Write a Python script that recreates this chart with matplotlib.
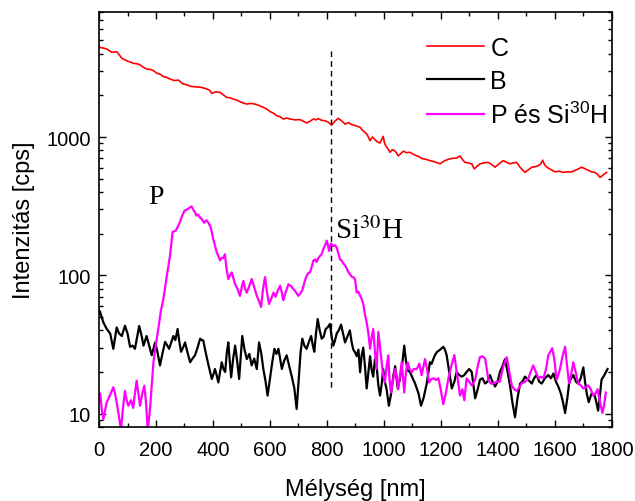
import matplotlib
matplotlib.use("Agg")
import matplotlib.pyplot as plt
from matplotlib.ticker import MultipleLocator, LogLocator, FixedLocator, FuncFormatter, NullFormatter

plt.rcParams['font.family'] = 'Liberation Sans'
plt.rcParams['mathtext.fontset'] = 'custom'
plt.rcParams['mathtext.rm'] = 'Liberation Sans'
plt.rcParams['mathtext.it'] = 'Liberation Sans:italic'
plt.rcParams['mathtext.bf'] = 'Liberation Sans:bold'

# C profile
depth_c = [0, 15, 27, 45, 62, 72, 80, 97, 110, 121, 135, 144, 155, 167, 180, 191, 202, 215, 226, 238,
           249, 265, 279, 288, 296, 310, 320, 335, 355, 368, 378, 388, 396, 410, 425, 437, 448, 460, 472, 484,
           495, 507, 519, 533, 548, 562, 577, 590, 601, 612, 624, 636, 647, 659, 671, 688, 706, 718, 729, 741,
           753, 762, 770, 782, 794, 805, 817, 828, 840, 852, 864, 876, 887, 900, 917, 925, 934, 942, 952, 960,
           969, 978, 987, 993, 998, 1003, 1007, 1015, 1022, 1030, 1040, 1046, 1051, 1060, 1069, 1080, 1092, 1104, 1116, 1125,
           1133, 1148, 1162, 1180, 1198, 1207, 1215, 1227, 1239, 1256, 1268, 1276, 1285, 1297, 1309, 1318, 1328, 1338, 1352, 1367,
           1380, 1391, 1405, 1420, 1432, 1444, 1455, 1467, 1480, 1496, 1508, 1520, 1532, 1543, 1552, 1558, 1565, 1573, 1588, 1602,
           1617, 1631, 1645, 1660, 1678, 1695, 1706, 1718, 1730, 1741, 1750, 1760, 1772, 1783]
counts_c = [4455, 4400, 4325, 4090, 4140, 3900, 3705, 3560, 3480, 3410, 3380, 3320, 3200, 3100, 3080, 3020, 2900, 2840, 2730, 2700,
            2625, 2560, 2580, 2480, 2415, 2380, 2325, 2310, 2290, 2260, 2225, 2180, 2070, 2120, 2100, 2010, 1935, 1920, 1880, 1850,
            1800, 1760, 1730, 1750, 1730, 1690, 1640, 1590, 1525, 1490, 1425, 1400, 1350, 1370, 1350, 1330, 1335, 1300, 1262, 1300,
            1350, 1330, 1360, 1320, 1310, 1280, 1220, 1300, 1365, 1310, 1240, 1270, 1230, 1210, 1175, 1120, 1080, 1040, 940, 1000,
            960, 920, 905, 960, 1010, 900, 865, 820, 775, 810, 790, 760, 730, 760, 790, 770, 775, 750, 730, 720,
            700, 690, 675, 660, 640, 660, 675, 690, 700, 705, 730, 690, 655, 650, 640, 588, 615, 640, 650, 655,
            630, 605, 640, 675, 655, 640, 650, 655, 600, 555, 580, 605, 610, 620, 640, 680, 630, 605, 580, 560,
            565, 555, 560, 560, 580, 605, 590, 575, 560, 555, 540, 510, 535, 555]

# B profile
depth_b = [0, 4, 15, 27, 39, 50, 62, 70, 80, 91, 100, 109, 118, 126, 133, 141, 150, 156, 167, 176,
           185, 197, 205, 214, 224, 232, 240, 246, 254, 261, 268, 276, 282, 288, 295, 302, 310, 320, 328, 337,
           346, 355, 361, 366, 374, 382, 390, 396, 401, 407, 413, 419, 425, 431, 437, 443, 449, 454, 459, 464,
           471, 478, 485, 492, 498, 503, 511, 519, 528, 536, 545, 554, 562, 570, 577, 585, 592, 597, 601, 609,
           616, 623, 630, 636, 642, 650, 659, 668, 677, 686, 694, 698, 702, 708, 714, 721, 729, 737, 745, 751,
           756, 762, 768, 775, 782, 789, 796, 803, 811, 817, 823, 829, 835, 842, 850, 857, 864, 872, 881, 887,
           893, 899, 905, 911, 917, 922, 928, 934, 940, 946, 952, 957, 963, 969, 975, 981, 987, 993, 998, 1004,
           1010, 1018, 1026, 1034, 1040, 1049, 1057, 1063, 1068, 1072, 1078, 1084, 1092, 1104, 1110, 1122, 1131, 1140, 1151, 1162,
           1168, 1178, 1186, 1198, 1209, 1215, 1221, 1230, 1239, 1248, 1256, 1265, 1274, 1283, 1291, 1300, 1309, 1315, 1321, 1330,
           1338, 1347, 1356, 1364, 1373, 1382, 1391, 1400, 1408, 1417, 1426, 1435, 1444, 1452, 1461, 1470, 1479, 1487, 1496, 1508,
           1520, 1528, 1537, 1546, 1555, 1566, 1578, 1587, 1596, 1605, 1613, 1622, 1630, 1637, 1645, 1651, 1658, 1666, 1675, 1683,
           1692, 1701, 1707, 1713, 1720, 1730, 1741, 1747, 1753, 1760, 1765, 1775, 1786]
counts_b = [56, 54, 45.7, 40.9, 38, 29.4, 42, 38, 36.4, 43.2, 38, 30.4, 31, 29.4, 35, 43, 36, 31, 36.4, 31,
            26.4, 32.7, 28, 22.3, 28, 33, 31, 29.4, 33, 36.4, 34, 40.9, 33, 28, 30, 32.7, 28, 23.5, 25, 26.4,
            30, 34.8, 34, 33.8, 28, 23.5, 20, 17.8, 19, 21, 19, 16.8, 20, 23.5, 21, 20, 28, 32.7, 24, 18.3,
            25, 31, 24, 17.8, 26, 36.4, 29, 24.8, 27, 22.3, 25, 21, 32.7, 27, 21, 17, 13.5, 16, 18.5, 24,
            29.4, 27, 29.4, 25, 21, 24, 26.4, 22, 18.5, 15.2, 10.8, 14, 18.5, 28, 34.8, 31, 29.4, 33, 36.4, 31,
            28, 38, 48.3, 40, 34.8, 36, 40.9, 42, 44.5, 36, 31, 34, 38, 40, 44, 38, 32.7, 36, 40, 33,
            29, 27.8, 26, 29, 19.9, 26, 30, 22, 15.2, 20, 26, 21, 18.5, 24.7, 22, 16, 13.5, 16.5, 21, 17,
            15, 11.4, 14, 19, 22, 15.2, 18, 21, 26, 31, 24, 20.5, 20, 17.6, 16.5, 14, 11.4, 13, 16.5, 23.5,
            22.9, 26, 27.8, 29, 30.4, 29, 26.4, 20, 15.2, 17, 20, 19, 18.5, 19, 20, 21, 20, 16, 12.9, 15,
            17.6, 18, 16.5, 17, 19, 17, 15.7, 17, 20, 22, 24.8, 20, 15.7, 12, 9.4, 13, 16.5, 17, 18.5, 17.5,
            16.5, 18, 19, 17, 16.5, 18, 19, 18, 19.5, 17, 15.7, 14, 12, 10.1, 13, 16.5, 18, 19, 17, 16.5,
            18, 21.6, 17, 14, 12.1, 14, 13.5, 12, 10.5, 14, 17.6, 19, 21]

# P and Si30H profile
depth_p = [0, 4, 10, 15, 21, 27, 38, 50, 56, 62, 70, 77, 84, 91, 97, 103, 112, 120, 126, 132,
           138, 144, 152, 159, 165, 171, 179, 185, 191, 200, 208, 217, 226, 232, 238, 244, 249, 254, 258, 264,
           270, 278, 284, 292, 300, 310, 318, 325, 331, 337, 342, 348, 354, 361, 369, 377, 384, 390, 395, 401,
           407, 413, 419, 425, 431, 436, 442, 448, 454, 460, 466, 472, 478, 486, 495, 501, 507, 513, 519, 528,
           536, 545, 554, 562, 569, 576, 583, 590, 597, 605, 613, 620, 628, 636, 642, 647, 656, 665, 673, 682,
           691, 700, 707, 714, 722, 729, 735, 741, 747, 753, 759, 764, 770, 776, 782, 788, 794, 800, 804, 808,
           815, 823, 829, 835, 840, 846, 852, 858, 864, 870, 876, 881, 887, 893, 899, 905, 911, 917, 922, 928,
           934, 940, 946, 952, 957, 963, 969, 975, 981, 987, 993, 998, 1004, 1010, 1016, 1020, 1025, 1032, 1039, 1045,
           1051, 1057, 1063, 1068, 1072, 1078, 1084, 1091, 1098, 1106, 1116, 1125, 1133, 1145, 1152, 1159, 1168, 1175, 1184, 1192,
           1200, 1209, 1218, 1227, 1237, 1248, 1258, 1268, 1276, 1283, 1291, 1300, 1309, 1321, 1330, 1338, 1347, 1356, 1362, 1367,
           1376, 1385, 1396, 1408, 1420, 1432, 1441, 1450, 1458, 1467, 1476, 1484, 1496, 1508, 1516, 1525, 1534, 1543, 1552, 1561,
           1570, 1578, 1585, 1592, 1600, 1607, 1613, 1619, 1628, 1637, 1644, 1651, 1658, 1666, 1674, 1683, 1692, 1701, 1710, 1718,
           1727, 1736, 1744, 1751, 1760, 1768, 1774, 1780]
counts_p = [13.5, 14, 10.5, 9.1, 10.5, 12.1, 13.5, 15.5, 14, 12, 9.5, 7.6, 11, 14.6, 12.5, 11.4, 12.5, 11, 14, 17.3,
            14, 11.4, 14, 15.9, 12, 7.5, 10.8, 16, 23.5, 32, 40.9, 55, 67.5, 82, 99, 118, 138, 170, 205, 208,
            211, 228, 242, 270, 293, 300, 308, 315, 298, 285, 270, 275, 262, 255, 240, 250, 240, 228, 210, 183,
            165, 147, 138, 128, 134, 133, 142, 111, 94, 100, 105, 95, 86, 80, 71, 82, 91, 80, 75, 84,
            94, 82, 71, 65, 59, 80, 97, 75, 62, 68, 75, 70, 78, 84, 75, 66, 76, 86, 84, 80,
            76, 71, 74, 78, 90, 99, 104, 105, 115, 128, 130, 125, 133, 138, 142, 155, 165, 178, 165, 150,
            170, 162, 165, 158, 145, 131, 128, 122, 118, 112, 105, 102, 98, 97, 94, 75, 76, 71, 68, 62,
            52, 45.7, 38, 29.4, 35, 40.9, 28, 21, 39, 30, 23.5, 19, 16.8, 22, 26.4, 18, 14.2, 17, 21, 19,
            15, 19, 23.5, 18, 14.2, 20, 23.5, 21, 19.9, 21, 21, 23, 19, 24.8, 21, 16.8, 17.8, 18, 17.5, 18,
            15, 11.7, 14, 18, 22, 26.5, 19, 13.5, 15, 12.5, 18, 17, 16, 17.5, 22, 25.6, 26, 25, 21, 17.6,
            16.5, 16.5, 17, 17, 22, 25.6, 20, 15.9, 15, 14.6, 15.5, 16.5, 17, 18, 20, 22.3, 20, 18, 18.5, 18,
            21, 26.4, 28, 29.7, 24, 17.6, 19, 21, 26, 30.4, 22, 16.5, 19, 23.5, 20, 16.5, 16, 15.2, 15.5, 16,
            15, 13.5, 14, 15, 12, 10.1, 11.5, 14.2]

series_labels = ['C', 'B', r'P és Si$^{30}$H']
peak_depth = 815
marker_range = [4210, 14.7]

fig = plt.figure(figsize=(6.35, 5.02), dpi=100)
ax = fig.add_axes([0.156, 0.1474, 0.807, 0.8265])

ax.plot(depth_c, counts_c, color='#ff0000', lw=1.2, label=series_labels[0])
ax.plot(depth_b, counts_b, color='black', lw=1.6, label=series_labels[1])
ax.plot(depth_p, counts_p, color='#ff00ff', lw=1.6, label=series_labels[2])
ax.plot([peak_depth, peak_depth], marker_range, color='black', lw=1.0, ls='--', dashes=(4, 3))

ax.set_yscale('log')
ax.set_xlim(0, 1800)
ax.set_ylim(8, 8000)
ax.xaxis.set_major_locator(MultipleLocator(200))
ax.xaxis.set_minor_locator(MultipleLocator(100))
ax.yaxis.set_major_locator(FixedLocator([10, 100, 1000]))
ax.yaxis.set_major_formatter(FuncFormatter(lambda v, pos: f"{v:g}"))
ax.yaxis.set_minor_locator(LogLocator(base=10, subs=range(2, 10)))
ax.yaxis.set_minor_formatter(NullFormatter())

ax.tick_params(which='both', direction='in', top=True, right=True, width=1.0, labelsize=14.5)
ax.tick_params(which='major', length=5)
ax.tick_params(which='minor', length=3)
ax.tick_params(axis='x', which='major', pad=9)
ax.tick_params(axis='y', which='major', pad=6)
for spine in ax.spines.values():
    spine.set_linewidth(1.2)

ax.set_xlabel('Mélység [nm]', fontsize=17, labelpad=14)
ax.set_ylabel('Intenzitás [cps]', fontsize=17, labelpad=8)

# peak labels
ax.text(172, 334, 'P', fontsize=20, fontfamily='Liberation Serif')
ax.text(829, 185, r'Si$^{30}$H', fontsize=21, fontfamily='Liberation Serif', math_fontfamily='stix')

ax.legend(loc='upper right', bbox_to_anchor=(1.0127, 0.966), frameon=False, fontsize=18,
          handlelength=2.3, handletextpad=0.25, labelspacing=0.35, borderaxespad=0.0)

fig.savefig('out.png', dpi=100)
